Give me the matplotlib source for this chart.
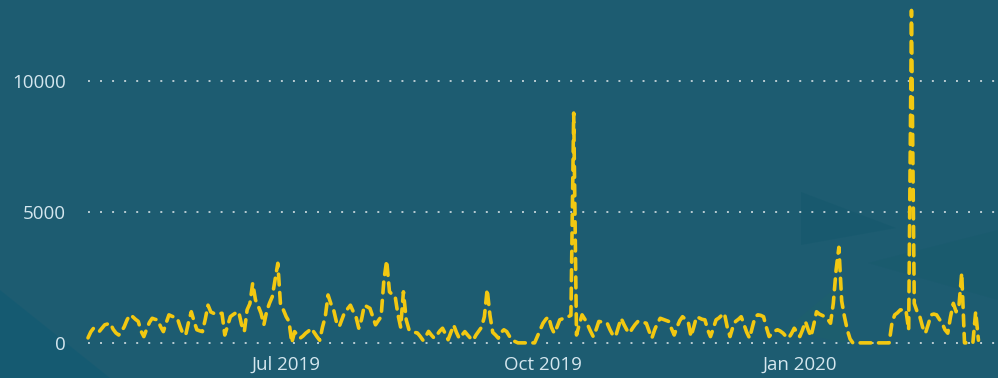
import matplotlib
matplotlib.use("Agg")
import matplotlib.pyplot as plt
import matplotlib.dates as mdates
from matplotlib.patches import Polygon
import numpy as np
import pandas as pd

# daily counts, 21 Apr 2019 .. 5 Mar 2020
start = "2019-04-21"
counts = [
    190, 420, 560, 500, 430, 560, 690, 720, 750, 520,
    380, 300, 430, 620, 880, 1070, 1000, 900, 820, 450,
    240, 520, 780, 940, 900, 880, 620, 430, 760, 1070,
    1020, 980, 940, 620, 350, 300, 780, 1190, 820, 500,
    460, 430, 900, 1440, 1180, 1130, 1150, 1120, 1130, 300,
    650, 1000, 1080, 1150, 1190, 700, 430, 1260, 1500, 2280,
    1640, 1400, 1130, 690, 1200, 1510, 1760, 2400, 3040, 1400,
    1260, 1000, 820, 0, 430, 300, 180, 260, 370, 450,
    560, 400, 240, 100, 600, 1000, 1830, 1500, 1260, 800,
    620, 900, 1190, 1300, 1440, 1200, 1000, 560, 900, 1440,
    1380, 1320, 1000, 690, 850, 1000, 2400, 3150, 1950, 1850,
    1800, 1100, 600, 1950, 880, 500, 450, 400, 380, 250,
    100, 250, 440, 300, 180, 300, 450, 560, 350, 120,
    400, 680, 400, 170, 300, 430, 300, 180, 100, 300,
    450, 600, 1000, 2050, 1050, 400, 300, 180, 400, 500,
    430, 250, 100, 50, 0, 0, 0, 0, 0, 0,
    0, 250, 500, 750, 900, 1000, 600, 370, 600, 880,
    920, 960, 1000, 1050, 8780, 300, 700, 1070, 900, 690,
    450, 240, 500, 820, 800, 780, 750, 500, 300, 240,
    600, 940, 700, 500, 370, 550, 700, 820, 800, 780,
    750, 450, 180, 500, 750, 940, 900, 860, 820, 550,
    300, 600, 850, 1000, 900, 820, 240, 600, 1000, 950,
    900, 880, 500, 240, 550, 880, 950, 1050, 1130, 600,
    240, 600, 820, 900, 1000, 700, 400, 180, 600, 1000,
    1070, 1050, 1000, 600, 240, 350, 450, 500, 450, 370,
    250, 180, 350, 560, 400, 240, 500, 820, 500, 240,
    700, 1190, 1100, 1050, 1000, 900, 750, 1510, 2790, 3650,
    1600, 1000, 500, 150, 0, 0, 0, 0, 0, 0,
    0, 0, 0, 0, 0, 0, 0, 0, 750, 1070,
    1150, 1260, 1260, 1260, 500, 12700, 1510, 1200, 1000, 600,
    370, 700, 1070, 1100, 1070, 900, 750, 500, 370, 1000,
    1510, 1190, 1400, 2670, 0, 0, 0, 0, 1190, 100,
]
dates = pd.date_range(start, periods=len(counts), freq="D")

xticks = ["2019-07-01", "2019-10-01", "2020-01-01"]
yticks = [0, 5000, 10000]

bg = "#1d5c71"
fig = plt.figure(figsize=(9.98, 3.78), dpi=100, facecolor=bg)

# faint shapes in the backdrop
shapes = [
    ([(0, 88 / 378), (110 / 998, 0), (0, 0)], "#0f5a72", 0.55),
    ([(801 / 998, 1 - 192 / 378), (896 / 998, 1 - 228 / 378),
      (801 / 998, 1 - 245 / 378)], "#0f566a", 0.35),
    ([(868 / 998, 1 - 263 / 378), (1.0, 1 - 230 / 378),
      (1.0, 1 - 300 / 378)], "#145a6a", 0.3),
    ([(785 / 998, 1 - 330 / 378), (845 / 998, 1 - 280 / 378),
      (845 / 998, 1 - 343 / 378)], "#1f6468", 0.3),
]
for pts, c, a in shapes:
    fig.patches.append(Polygon(pts, closed=True, transform=fig.transFigure,
                               facecolor=c, edgecolor="none", alpha=a, zorder=0))

ax = fig.add_axes([88 / 998, 32 / 378, 910 / 998, 346 / 378])
ax.set_facecolor("none")
ax.set_zorder(2)

ax.plot(dates, counts, color="#f2c811", lw=2.6, linestyle=(0, (3.0, 2.1)),
        dash_capstyle="round", solid_capstyle="round", clip_on=False, zorder=3)

ax.set_xlim(pd.Timestamp("2019-04-21"), pd.Timestamp("2020-03-12"))
ax.set_ylim(-120, 13100)
ax.set_yticks(yticks)
ax.set_yticklabels([str(v) for v in yticks])
ax.set_xticks(pd.to_datetime(xticks))
ax.xaxis.set_major_formatter(mdates.DateFormatter("%b %Y"))

ax.grid(axis="y", color="#b9ccd2", lw=1.4, linestyle=(0, (1, 5.2)))
ax.grid(axis="x", visible=False)
ax.set_axisbelow(True)
for s in ax.spines.values():
    s.set_visible(False)
ax.tick_params(length=0, labelsize=13.5, labelcolor="#d4e6ee")
ax.tick_params(axis="y", pad=16)
ax.tick_params(axis="x", pad=7)
for lab in ax.get_xticklabels() + ax.get_yticklabels():
    lab.set_family("Open Sans")

fig.savefig("out.png", dpi=100, facecolor=bg)
